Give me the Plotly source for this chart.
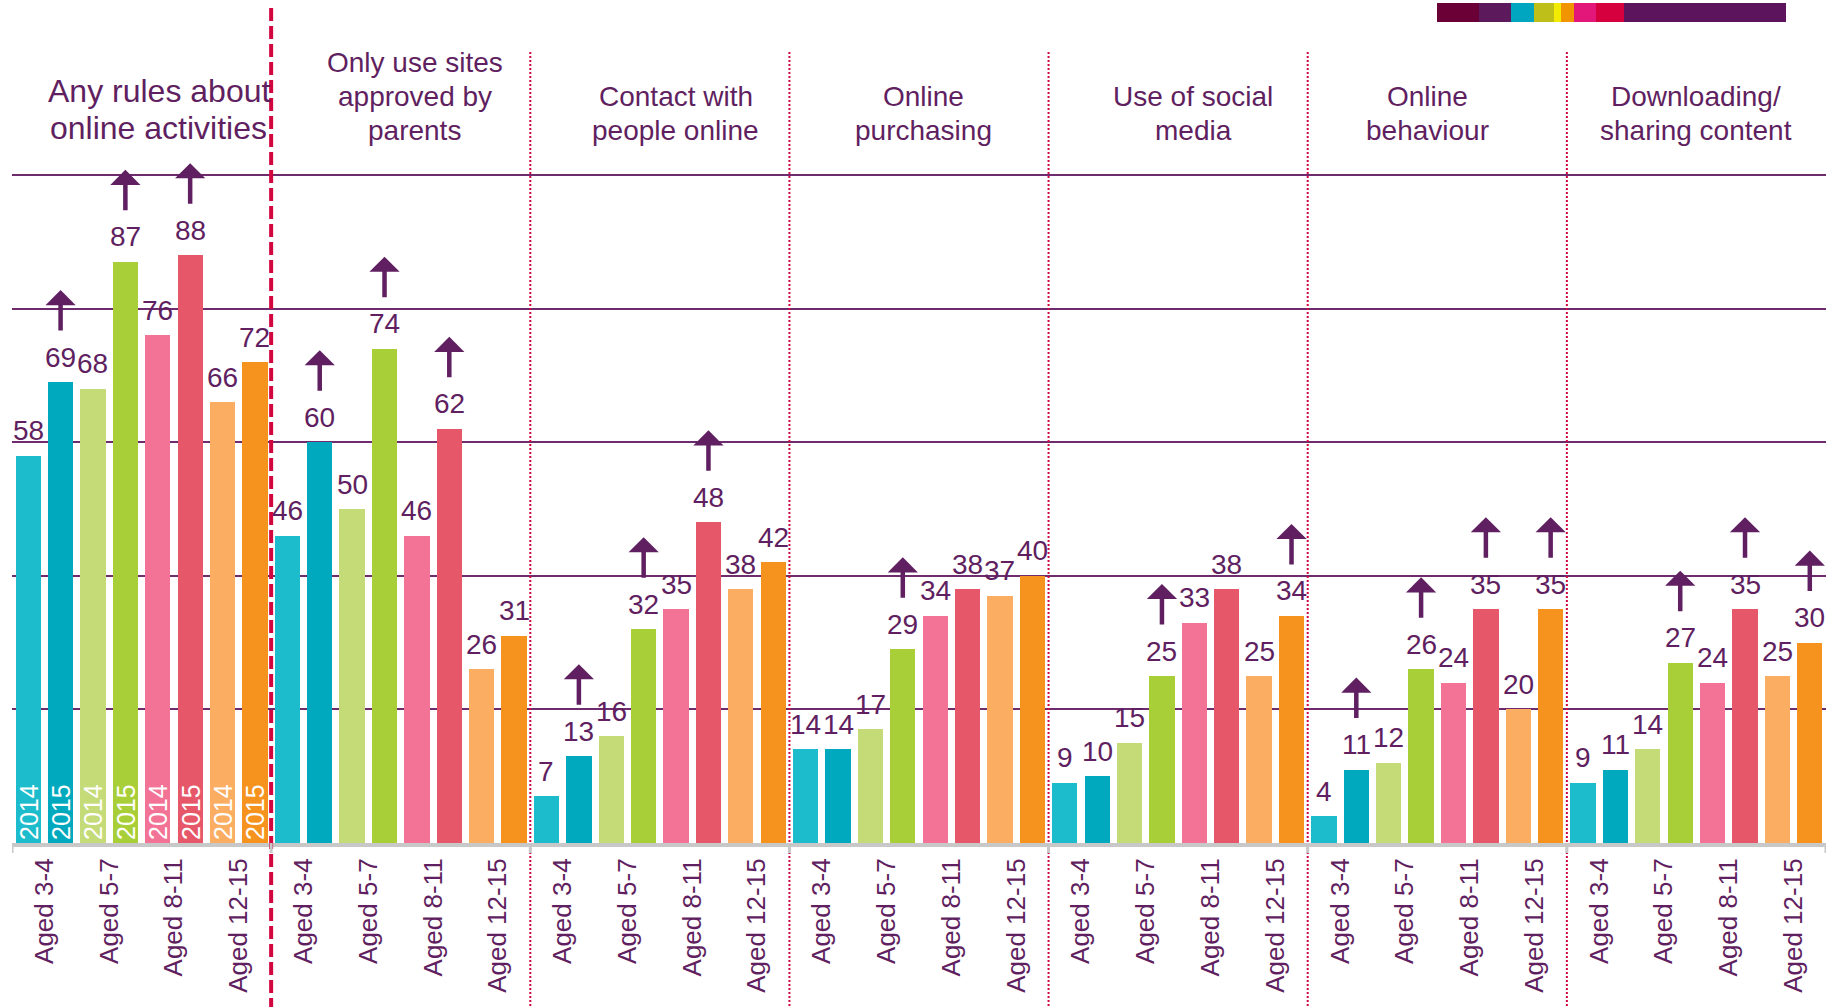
import plotly.graph_objects as go

# ---------------- data ----------------
age_groups = ["Aged 3-4", "Aged 5-7", "Aged 8-11", "Aged 12-15"]
years = ["2014", "2015"]
categories = [
    "Any rules about<br>online activities",
    "Only use sites<br>approved by<br>parents",
    "Contact with<br>people online",
    "Online<br>purchasing",
    "Use of social<br>media",
    "Online<br>behaviour",
    "Downloading/<br>sharing content",
]

# order within each category: 3-4 (2014, 2015), 5-7 (2014, 2015), 8-11 (2014, 2015), 12-15 (2014, 2015)
any_rules = [58, 69, 68, 87, 76, 88, 66, 72]
approved_sites = [46, 60, 50, 74, 46, 62, 26, 31]
contact_people = [7, 13, 16, 32, 35, 48, 38, 42]
online_purchasing = [14, 14, 17, 29, 34, 38, 37, 40]
social_media = [9, 10, 15, 25, 33, 38, 25, 34]
online_behaviour = [4, 11, 12, 26, 24, 35, 20, 35]
downloading = [9, 11, 14, 27, 24, 35, 25, 30]

# 1 = significant increase since 2014 (up arrow)
any_rules_up = [0, 1, 0, 1, 0, 1, 0, 0]
approved_sites_up = [0, 1, 0, 1, 0, 1, 0, 0]
contact_people_up = [0, 1, 0, 1, 0, 1, 0, 0]
online_purchasing_up = [0, 0, 0, 1, 0, 0, 0, 0]
social_media_up = [0, 0, 0, 1, 0, 0, 0, 1]
online_behaviour_up = [0, 1, 0, 1, 0, 1, 0, 1]
downloading_up = [0, 0, 0, 1, 0, 1, 0, 1]

series = [any_rules, approved_sites, contact_people, online_purchasing,
          social_media, online_behaviour, downloading]
arrows = [any_rules_up, approved_sites_up, contact_people_up, online_purchasing_up,
          social_media_up, online_behaviour_up, downloading_up]

# ---------------- styles ----------------
FONT = "Liberation Sans, Arial, sans-serif"
PURPLE = "#5f1f60"
GRID = "#6e2c6e"
SEP = "#d2063f"
pair_colors = [("#1cbccc", "#00a9bd"), ("#c4db77", "#a9cf38"),
               ("#f27396", "#e65869"), ("#fbae62", "#f6931f")]
title_xshift = [17, 14, 16, 4, 15, -10, 0]

W, H = 1833, 1007
ML, MR, MT, MB = 12, 7, 8, 164
PH = H - MT - MB
YMAX = 125


def py_to_paper(py):
    return (H - MB - py) / PH


def px_to_paper(px):
    return (px - ML) / (W - ML - MR)


xs, ys, cols, yeartext = [], [], [], []
annotations = []
for g, vals in enumerate(series):
    for i, v in enumerate(vals):
        p, yr = divmod(i, 2)
        x = 8 * g + 2 * p + yr
        xs.append(x)
        ys.append(v)
        cols.append(pair_colors[p][yr])
        yeartext.append(years[yr] if g == 0 else "")
        annotations.append(dict(x=x, y=v, xref="x", yref="y", text=str(v),
                                showarrow=False, yanchor="middle", yshift=25,
                                font=dict(family=FONT, size=28, color=PURPLE)))
        if arrows[g][i]:
            annotations.append(dict(x=x, y=v, xref="x", yref="y", text="",
                                    showarrow=True, arrowhead=1, arrowsize=1.12,
                                    arrowwidth=4.5, arrowcolor=PURPLE,
                                    ax=0, ay=42, yshift=92))

fig = go.Figure(go.Bar(
    x=xs, y=ys, marker=dict(color=cols, line=dict(width=0)), width=0.78,
    text=yeartext, textposition="inside", insidetextanchor="start",
    textangle=-90, constraintext="none",
    textfont=dict(family=FONT, size=25, color="white"),
    hoverinfo="skip",
))

# category titles
for g, cat in enumerate(categories):
    lines = cat.split("<br>")
    fs = 32 if g == 0 else 28
    sp = 37 if g == 0 else 34
    last = 128 if g == 0 else 130
    n = len(lines)
    for k, line in enumerate(lines):
        pyc = last - (n - 1 - k) * sp
        annotations.append(dict(x=8 * g + 3.5, xref="x", y=py_to_paper(pyc), yref="paper",
                                text=line, showarrow=False, yanchor="middle",
                                xshift=title_xshift[g],
                                font=dict(family=FONT, size=fs, color=PURPLE)))

shapes = []
# separators between categories
for g in range(1, len(series)):
    xb = 8 * g - 0.5
    if g == 1:
        shapes.append(dict(type="line", xref="x", yref="paper", x0=xb, x1=xb,
                           y0=py_to_paper(8), y1=py_to_paper(H),
                           line=dict(color=SEP, width=4, dash="13px,5px")))
    else:
        shapes.append(dict(type="line", xref="x", yref="paper", x0=xb, x1=xb,
                           y0=py_to_paper(52), y1=py_to_paper(H),
                           line=dict(color=SEP, width=2, dash="2px,2px")))
# tick marks on base axis at category boundaries
for g in range(len(series) + 1):
    xb = 8 * g - 0.5
    shapes.append(dict(type="line", xref="x", yref="paper", x0=xb, x1=xb,
                       y0=0, y1=-10 / PH, line=dict(color="#c8c8c8", width=3)))

# decorative colour band top right
band = [(1437, 1479, "#6a0036"), (1479, 1511, "#5c1a5c"), (1511, 1534, "#00a6c0"),
        (1534, 1554, "#bfbf1a"), (1554, 1561, "#f2ea00"), (1561, 1574, "#f09400"),
        (1574, 1596, "#e3177a"), (1596, 1624, "#d6003f"), (1624, 1786, "#5c145c")]
for x0, x1, c in band:
    shapes.append(dict(type="rect", xref="paper", yref="paper",
                       x0=px_to_paper(x0), x1=px_to_paper(x1),
                       y0=py_to_paper(22), y1=py_to_paper(3),
                       line=dict(width=0), fillcolor=c, layer="above"))

tickvals = [8 * g + 2 * p + 0.5 for g in range(len(series)) for p in range(len(age_groups))]
ticktext = [age_groups[p] for g in range(len(series)) for p in range(len(age_groups))]

fig.update_layout(
    width=W, height=H,
    margin=dict(l=ML, r=MR, t=MT, b=MB, pad=0),
    paper_bgcolor="white", plot_bgcolor="white",
    showlegend=False,
    bargap=0,
    annotations=annotations,
    shapes=shapes,
    xaxis=dict(range=[-0.5, 8 * len(series) - 0.5], tickvals=tickvals, ticktext=ticktext,
               tickangle=-90, ticks="", showgrid=False, zeroline=False,
               showline=True, linecolor="#c8c8c8", linewidth=4,
               ticklabelstandoff=1,
               tickfont=dict(family=FONT, size=26, color=PURPLE), fixedrange=True),
    yaxis=dict(range=[0, YMAX], tickvals=[20, 40, 60, 80, 100], showticklabels=False,
               showgrid=True, gridcolor=GRID, gridwidth=2, zeroline=False,
               showline=False, fixedrange=True),
)

fig.write_html("out.html", config={"displayModeBar": False},
               post_script="document.body.style.margin='0';document.body.style.overflow='hidden';")
